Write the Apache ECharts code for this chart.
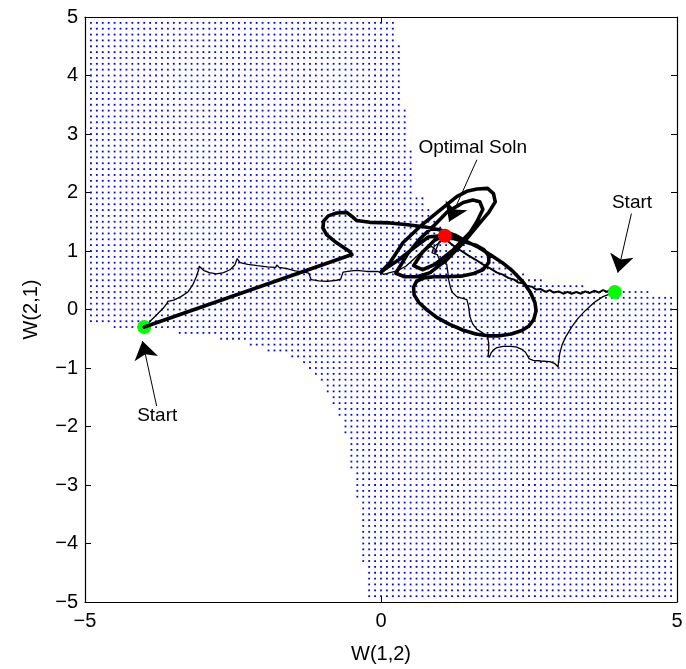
<!DOCTYPE html>
<html><head><meta charset="utf-8">
<script src="https://cdn.jsdelivr.net/npm/echarts@6/dist/echarts.min.js"></script>
<style>html,body{margin:0;padding:0;background:#fff}#c{width:686px;height:669px}</style>
</head><body><div id="c"></div>
<script>
// ---- axis ticks ----
const xTicks = [-5, 0, 5];
const yTicks = [-5, -4, -3, -2, -1, 0, 1, 2, 3, 4, 5];

// ---- dotted region: upper-right cut-out (rows from yTop down to yBottom end at xMax) ----
const upperBandTop    = [4.9, 4.5, 3.4, 2.7, 1.9, 1.7, 1.5, 1.4, 1.3, 1.2, 1.1, 1.0, 0.9, 0.8, 0.7, 0.6, 0.5, 0.4, 0.3];
const upperBandBottom = [4.6, 3.5, 2.8, 2.0, 1.8, 1.6, 1.5, 1.4, 1.3, 1.2, 1.1, 1.0, 0.9, 0.8, 0.7, 0.6, 0.5, 0.4, 0.3];
const upperBandXMax   = [0.2, 0.3, 0.4, 0.5, 0.7, 0.8, 0.9, 1.0, 1.1, 1.3, 1.4, 1.5, 1.8, 2.0, 2.2, 2.4, 2.7, 3.4, 4.5];
// lower-left cut-out (rows start at xMin)
const lowerBandTop    = [-0.3, -0.4, -0.5, -0.6, -0.7, -0.8, -0.9, -1.0, -1.1, -1.2, -1.3, -1.5, -1.7, -1.9, -2.2, -2.8, -3.3, -4.4];
const lowerBandBottom = [-0.3, -0.4, -0.5, -0.6, -0.7, -0.8, -0.9, -1.0, -1.1, -1.2, -1.4, -1.6, -1.8, -2.1, -2.7, -3.2, -4.3, -4.9];
const lowerBandXMin   = [-4.5, -3.4, -2.7, -2.2, -1.9, -1.5, -1.3, -1.2, -1.1, -1.0, -0.9, -0.8, -0.7, -0.6, -0.5, -0.4, -0.3, -0.2];

// ---- points ----
const startPoints = [[-4.0, -0.3], [3.95, 0.3]];
const optimalPoint = [[1.08, 1.26]];

// ---- trajectories ----
const thickLeftPath = [[-4.0,-0.3],[-0.49,0.94],[-0.53,0.99],[-0.6,1.04],[-0.75,1.14],[-0.92,1.28],[-0.98,1.39],[-0.97,1.51],[-0.89,1.6],[-0.75,1.65],[-0.58,1.66],[-0.49,1.59],[-0.41,1.52],[-0.19,1.49],[0.15,1.48],[0.45,1.45],[0.75,1.41],[1.0,1.36],
  [1.25,1.27],[1.45,1.16],[1.65,1.06],[1.84,0.94],[2.05,0.8],[2.23,0.65],[2.4,0.47],[2.52,0.3],[2.6,0.12],[2.62,-0.02],[2.58,-0.17],[2.5,-0.28],[2.38,-0.36],[2.2,-0.42],[2.0,-0.45],[1.8,-0.45],[1.6,-0.42],[1.38,-0.35],[1.15,-0.25],[0.95,-0.14],[0.78,-0.01],[0.64,0.12],[0.56,0.25],[0.55,0.38],[0.6,0.48],
  [0.72,0.54],[0.9,0.56],[1.1,0.56],[1.35,0.57],[1.55,0.61],[1.72,0.68],[1.82,0.8],[1.82,0.92],[1.74,1.02],[1.6,1.1],[1.4,1.16],[1.2,1.22],[1.0,1.26],[0.8,1.24],
  [0.55,1.05],[0.3,0.85],[0.05,0.68],[0.0,0.64],
  [0.15,0.8],[0.37,1.14],[0.66,1.42],[0.95,1.66],[1.28,1.93],[1.45,2.02],[1.62,2.06],[1.8,2.07],[1.9,1.98],[1.93,1.84],[1.82,1.66],[1.67,1.48],[1.39,1.14],[1.11,0.85],[0.83,0.63],[0.61,0.56],[0.4,0.56],[0.25,0.62],
  [0.45,0.95],[0.65,1.2],[0.88,1.42],[1.11,1.66],[1.39,1.83],[1.55,1.87],[1.67,1.84],[1.72,1.71],[1.62,1.5],[1.5,1.31],[1.22,1.02],[0.91,0.77],[0.7,0.68],[0.55,0.75],
  [0.7,0.98],[0.9,1.18],[1.08,1.27]];
const thinLeftPath = [[-4.0,-0.3],[-3.9,-0.2],[-3.78,-0.08],[-3.68,0.02],[-3.62,0.1],[-3.6,0.14],[-3.5,0.16],[-3.38,0.22],[-3.26,0.3],[-3.18,0.42],[-3.12,0.56],[-3.08,0.68],[-3.07,0.74],[-3.0,0.67],[-2.9,0.63],[-2.78,0.61],[-2.66,0.63],[-2.55,0.68],[-2.47,0.76],[-2.43,0.87],[-2.38,0.8],[-2.25,0.77],[-2.09,0.75],[-1.92,0.73],[-1.78,0.72],[-1.76,0.76],[-1.72,0.72],[-1.59,0.7],[-1.45,0.66],[-1.3,0.64],[-1.22,0.62],[-1.18,0.51],[-1.05,0.49],[-0.91,0.48],[-0.75,0.5],[-0.68,0.52],[-0.64,0.64],[-0.5,0.66],[-0.41,0.67],[-0.24,0.65],[-0.05,0.65],[0.05,0.6],[0.15,0.63],[0.27,0.66],[0.42,0.74],[0.55,0.86],[0.7,1.0],[0.85,1.08],[0.95,1.0],[0.9,0.95],[0.98,1.15],[1.08,1.26]];
const thinRightPath = [[3.95,0.3],[3.86,0.34],[3.96,0.37],[3.9,0.28],[3.85,0.26],[3.75,0.22],[3.6,0.12],[3.45,-0.02],[3.32,-0.16],[3.22,-0.3],[3.13,-0.45],[3.06,-0.6],[3.02,-0.75],[3.0,-0.9],[2.99,-0.98],[2.93,-0.92],[2.85,-0.89],[2.7,-0.88],[2.57,-0.87],[2.5,-0.84],[2.48,-0.8],[2.44,-0.73],[2.38,-0.68],[2.28,-0.64],[2.18,-0.63],[2.06,-0.63],[1.96,-0.65],[1.9,-0.69],[1.86,-0.74],[1.83,-0.82],[1.81,-0.78],[1.82,-0.7],[1.82,-0.58],[1.8,-0.47],[1.72,-0.4],[1.62,-0.34],[1.55,-0.25],[1.5,-0.12],[1.48,0.05],[1.45,0.17],[1.35,0.2],[1.28,0.22],[1.2,0.3],[1.17,0.39],[1.14,0.52],[1.13,0.63],[1.11,0.77],[1.0,0.82],[0.95,0.94],[0.86,0.97],[0.9,1.08],[1.0,1.15],[1.08,1.26]];
const medRightPath = [[3.95,0.3],[3.88,0.34],[3.82,0.3],[3.75,0.33],[3.68,0.29],[3.6,0.32],[3.52,0.28],[3.45,0.31],[3.38,0.27],[3.3,0.3],[3.22,0.27],[3.15,0.3],[3.08,0.27],[3.0,0.31],[2.92,0.29],[2.85,0.33],[2.78,0.3],[2.7,0.35],[2.62,0.34],[2.55,0.39],[2.47,0.4],[2.4,0.45],[2.32,0.46],[2.25,0.51],[2.15,0.54],[2.05,0.6],[1.96,0.63],[1.85,0.7],[1.72,0.77],[1.6,0.85],[1.48,0.92],[1.36,1.0],[1.25,1.07],[1.15,1.15],[1.08,1.25]];

// ---- annotations ----
const annotTexts = ['Optimal Soln', 'Start', 'Start'];
const annotTextPos = [[1.55, 2.76], [4.24, 1.83], [-3.78, -1.82]];
const arrowTails = [[1.62, 2.56], [4.23, 1.64], [-3.79, -1.65]];
const arrowTips  = [[1.15, 1.50], [4.0, 0.63], [-4.03, -0.54]];

// build dotted grid (0.1 spacing) from band tables
function rowLimit(yi) {
  let xmin = -50, xmax = 50;
  for (let i = 0; i < upperBandTop.length; i++) {
    const t = Math.round(upperBandTop[i] * 10), b = Math.round(upperBandBottom[i] * 10);
    if (yi <= t && yi >= b) xmax = Math.round(upperBandXMax[i] * 10);
  }
  for (let i = 0; i < lowerBandTop.length; i++) {
    const t = Math.round(lowerBandTop[i] * 10), b = Math.round(lowerBandBottom[i] * 10);
    if (yi <= t && yi >= b) xmin = Math.round(lowerBandXMin[i] * 10);
  }
  return [xmin, xmax];
}
const dots = [];
for (let yi = -49; yi <= 49; yi++) {
  const [a, b] = rowLimit(yi);
  for (let xi = -49; xi <= 49; xi++) {
    if (xi >= a && xi <= b) dots.push([xi / 10, yi / 10]);
  }
}

const FONT = 'Liberation Sans, Arial, Helvetica, sans-serif';
const minusFmt = v => String(v).replace('-', '\u2212');
const baseAxis = {
  type: 'value', min: -5, max: 5,
  axisLine: { show: true, onZero: false, lineStyle: { color: '#000', width: 1.2 } },
  axisTick: { show: true, inside: true, length: 6, lineStyle: { color: '#000' } },
  splitLine: { show: false },
  axisLabel: { show: false }
};

const chart = echarts.init(document.getElementById('c'), null, { renderer: 'canvas' });
chart.setOption({
  animation: false,
  grid: { left: 85, right: 9, top: 17, bottom: 66, containLabel: false },
  xAxis: [
    Object.assign({}, baseAxis, {
      position: 'bottom', interval: 5,
      name: 'W(1,2)', nameLocation: 'middle', nameGap: 42,
      nameTextStyle: { color: '#000', fontSize: 20, fontFamily: FONT },
      axisLabel: { show: true, margin: 9, color: '#000', fontSize: 20, fontFamily: FONT,
        formatter: v => xTicks.includes(v) ? minusFmt(v) : '' }
    }),
    Object.assign({}, baseAxis, { position: 'top', interval: 5 })
  ],
  yAxis: [
    Object.assign({}, baseAxis, {
      position: 'left', interval: 1,
      name: 'W(2,1)', nameLocation: 'middle', nameGap: 44, nameRotate: 90,
      nameTextStyle: { color: '#000', fontSize: 20, fontFamily: FONT },
      axisLabel: { show: true, margin: 7, color: '#000', fontSize: 20, fontFamily: FONT,
        formatter: v => yTicks.includes(v) ? minusFmt(v) : '' }
    }),
    Object.assign({}, baseAxis, { position: 'right', interval: 1 })
  ],
  series: [
    { type: 'scatter', data: dots, symbol: 'rect', symbolSize: 1.8, silent: true,
      itemStyle: { color: '#0000ff', opacity: 1 }, progressive: 0, z: 1 },
    { type: 'scatter', data: startPoints, symbolSize: 14, silent: true,
      itemStyle: { color: '#00ff00', opacity: 1 }, z: 2 },
    { type: 'line', data: medRightPath, showSymbol: false, silent: true,
      lineStyle: { color: '#000', width: 2 }, z: 2 },
    { type: 'line', data: thinLeftPath, showSymbol: false, silent: true,
      lineStyle: { color: '#000', width: 1.3 }, z: 2 },
    { type: 'line', data: thinRightPath, showSymbol: false, silent: true,
      lineStyle: { color: '#000', width: 1.3 }, z: 2 },
    { type: 'line', data: thickLeftPath, showSymbol: false, silent: true,
      lineStyle: { color: '#000', width: 3.6, join: 'round', cap: 'round' }, z: 3 },
    { type: 'scatter', data: optimalPoint, symbolSize: 14, silent: true,
      itemStyle: { color: '#ff0000', opacity: 1 }, z: 4 },
    { type: 'lines', coordinateSystem: 'cartesian2d', silent: true,
      symbol: ['none', 'arrow'], symbolSize: 18,
      lineStyle: { color: '#000', width: 1, opacity: 1 },
      data: arrowTails.map((t, i) => ({ coords: [t, arrowTips[i]] })), z: 5 },
    { type: 'scatter', symbolSize: 0, silent: true, z: 6,
      itemStyle: { opacity: 1 },
      data: annotTextPos.map((p, i) => ({ value: p, name: annotTexts[i] })),
      label: { show: true, position: 'inside', formatter: p => p.name, opacity: 1,
        color: '#000', fontSize: 19, fontFamily: FONT } }
  ]
});
</script>
</body></html>
